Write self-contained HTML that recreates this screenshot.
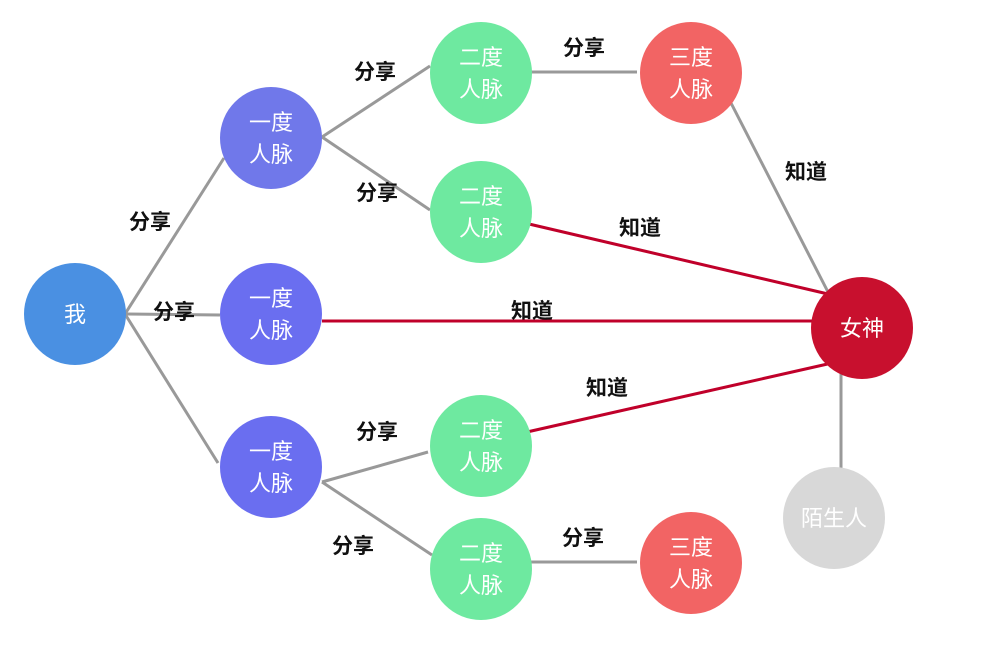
<!DOCTYPE html>
<html><head><meta charset="utf-8"><style>
html,body{margin:0;padding:0;background:#fff;}
svg text{font-family:"Liberation Sans","Noto Sans CJK SC",sans-serif;}
</style></head><body>
<svg width="991" height="656" viewBox="0 0 991 656" xmlns="http://www.w3.org/2000/svg">
<g stroke="#999" stroke-width="3" fill="none">
<line x1="125" y1="314" x2="224" y2="158"/>
<line x1="125" y1="314" x2="220" y2="315"/>
<line x1="125" y1="314" x2="218" y2="463"/>
<line x1="322" y1="137" x2="430" y2="66"/>
<line x1="322" y1="137" x2="430" y2="210"/>
<line x1="531" y1="72" x2="637" y2="72"/>
<line x1="731" y1="103" x2="828" y2="292"/>
<line x1="841" y1="372" x2="841" y2="470"/>
<line x1="322" y1="482" x2="428" y2="452"/>
<line x1="322" y1="482" x2="432" y2="555"/>
<line x1="531" y1="562" x2="637" y2="562"/>
</g>
<g stroke="#c0002a" stroke-width="3" fill="none">
<line x1="529" y1="224" x2="828" y2="294"/>
<line x1="322" y1="321" x2="812" y2="321"/>
<line x1="527" y1="432" x2="832" y2="363"/>
</g>
<g>
<circle cx="75" cy="314" r="51" fill="#4a90e2"/>
<circle cx="271" cy="138" r="51" fill="#7078ea"/>
<circle cx="271" cy="314" r="51" fill="#6a6ef0"/>
<circle cx="271" cy="467" r="51" fill="#6a6ef0"/>
<circle cx="481" cy="73" r="51" fill="#6ee9a0"/>
<circle cx="481" cy="212" r="51" fill="#6ee9a0"/>
<circle cx="481" cy="446" r="51" fill="#6ee9a0"/>
<circle cx="481" cy="569" r="51" fill="#6ee9a0"/>
<circle cx="691" cy="73" r="51" fill="#f26464"/>
<circle cx="691" cy="563" r="51" fill="#f26464"/>
<circle cx="862" cy="328" r="51" fill="#c8102e"/>
<circle cx="834" cy="518" r="51" fill="#d8d8d8"/>
</g>
<g fill="#fff" font-size="22" text-anchor="middle">
<text x="75" y="322">我</text>
<text x="862" y="336">女神</text>
<text x="834" y="526">陌生人</text>
<text x="271" y="130">一度</text><text x="271" y="162">人脉</text>
<text x="271" y="306">一度</text><text x="271" y="338">人脉</text>
<text x="271" y="459">一度</text><text x="271" y="491">人脉</text>
<text x="481" y="65">二度</text><text x="481" y="97">人脉</text>
<text x="481" y="204">二度</text><text x="481" y="236">人脉</text>
<text x="481" y="438">二度</text><text x="481" y="470">人脉</text>
<text x="481" y="561">二度</text><text x="481" y="593">人脉</text>
<text x="691" y="65">三度</text><text x="691" y="97">人脉</text>
<text x="691" y="555">三度</text><text x="691" y="587">人脉</text>
</g>
<g fill="#111" font-size="21" font-weight="bold" text-anchor="middle">
<text x="150" y="229">分享</text>
<text x="174" y="319">分享</text>
<text x="375" y="79">分享</text>
<text x="377" y="200">分享</text>
<text x="584" y="55">分享</text>
<text x="377" y="439">分享</text>
<text x="353" y="553">分享</text>
<text x="583" y="545">分享</text>
<text x="806" y="179">知道</text>
<text x="640" y="235">知道</text>
<text x="532" y="318">知道</text>
<text x="607" y="395">知道</text>
</g>
</svg>
</body></html>
